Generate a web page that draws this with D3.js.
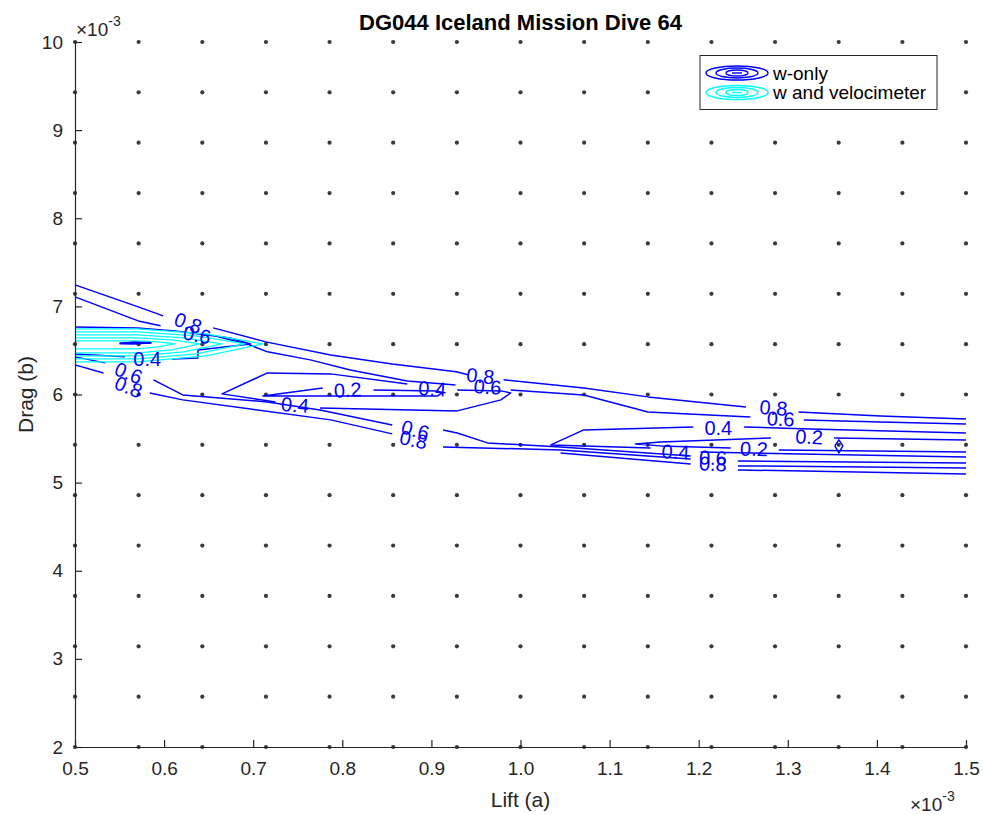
<!DOCTYPE html>
<html><head><meta charset="utf-8">
<script src="https://cdn.jsdelivr.net/npm/d3@7"></script>
<style>
body{margin:0;background:#fff}
svg{display:block}
text{font-family:"Liberation Sans",Arial,Helvetica,sans-serif}
</style>
</head><body><svg id="c" width="983" height="815"></svg>
<script>
// ---------------- data (units of 1e-3) ----------------
const title = "DG044 Iceland Mission Dive 64";
const xLabel = "Lift (a)";
const yLabel = "Drag (b)";
const xTicks = [0.5,0.6,0.7,0.8,0.9,1.0,1.1,1.2,1.3,1.4,1.5];
const yTicks = [2,3,4,5,6,7,8,9,10];
const gridA = [0.5,0.5714,0.6429,0.7143,0.7857,0.8571,0.9286,1.0,1.0714,1.1429,1.2143,1.2857,1.3571,1.4286,1.5];
const gridB = [2,2.5714,3.1429,3.7143,4.2857,4.8571,5.4286,6.0,6.5714,7.1429,7.7143,8.2857,8.8571,9.4286,10];
const legendNames = ["w-only","w and velocimeter"];

// w-only contour strokes, by level
const wOnly08 = [
 [[0.500,7.244],[0.571,6.994],[0.599,6.892]],
 [[0.655,6.756],[0.714,6.597],[0.787,6.449],[0.856,6.347],[0.928,6.257],[0.942,6.222]],
 [[0.981,6.166],[1.071,6.075],[1.143,5.973],[1.253,5.859]],
 [[1.312,5.802],[1.404,5.757],[1.500,5.723]],
 [[0.500,6.336],[0.532,6.245]],
 [[0.584,6.018],[0.621,5.939],[0.787,5.712],[0.856,5.553]],
 [[0.913,5.405],[1.045,5.371],[1.191,5.269]],
 [[1.244,5.190],[1.500,5.167]],
 [[1.045,5.337],[1.191,5.212]],
 [[1.244,5.144],[1.500,5.099]]
];
const wOnly06 = [
 [[0.500,7.108],[0.571,6.835],[0.596,6.779]],
 [[0.661,6.654],[0.693,6.574],[0.716,6.484],[0.764,6.393],[0.809,6.279],[0.873,6.154],[0.927,6.109]],
 [[0.989,6.052],[1.071,5.995],[1.143,5.802],[1.258,5.746]],
 [[1.318,5.712],[1.404,5.689],[1.500,5.666]],
 [[0.500,6.427],[0.534,6.359]],
 [[0.588,6.166],[0.621,5.995],[0.716,5.916],[0.775,5.825],[0.856,5.655]],
 [[0.913,5.598],[0.929,5.564],[0.963,5.451],[1.045,5.405],[1.191,5.303]],
 [[1.244,5.246],[1.500,5.224]]
];
const wOnly04 = [
 [[0.725,5.916],[0.665,6.007],[0.716,6.245],[0.787,6.234],[0.873,6.120]],
 [[0.929,6.052],[0.978,6.041],[0.989,6.018],[0.978,5.939],[0.929,5.814],[0.775,5.848]],
 [[1.194,5.632],[1.071,5.598],[1.034,5.428],[1.071,5.417],[1.146,5.394]],
 [[1.251,5.632],[1.315,5.610],[1.500,5.564]],
 [[1.202,5.348],[1.315,5.326],[1.500,5.292]],
 [[0.500,6.767],[0.570,6.756],[0.612,6.722],[0.674,6.642],[0.697,6.574],[0.638,6.506],[0.638,6.415],[0.609,6.404]],
 [[0.556,6.427],[0.500,6.460]]
];
const wOnly02 = [
 [[0.835,6.052],[0.907,6.041],[0.912,6.018],[0.907,5.984],[0.711,5.984],[0.778,6.075]],
 [[1.281,5.507],[1.157,5.462],[1.129,5.439],[1.157,5.417],[1.236,5.394]],
 [[1.352,5.507],[1.500,5.485]],
 [[1.290,5.371],[1.500,5.348]],
 [[0.550,6.580],[0.566,6.592],[0.585,6.586],[0.566,6.577],[0.550,6.580]],
 [[1.3528,5.417],[1.3573,5.485],[1.3618,5.417],[1.3573,5.337],[1.3528,5.417]]
];
// w and velocimeter contour loops
const velLoops = [
 [[0.5,6.745],[0.570,6.745],[0.647,6.688],[0.711,6.574],[0.647,6.438],[0.570,6.370],[0.5,6.370]],
 [[0.5,6.711],[0.570,6.711],[0.636,6.665],[0.691,6.574],[0.636,6.461],[0.570,6.404],[0.5,6.404]],
 [[0.5,6.676],[0.570,6.676],[0.622,6.642],[0.665,6.574],[0.622,6.484],[0.570,6.438],[0.5,6.438]],
 [[0.5,6.642],[0.570,6.642],[0.609,6.620],[0.640,6.574],[0.609,6.506],[0.570,6.472],[0.5,6.472]],
 [[0.5,6.608],[0.570,6.608],[0.593,6.597],[0.612,6.574],[0.593,6.540],[0.570,6.518],[0.5,6.518]]
];
// contour labels: text, a, b, angle
const contourLabels = [
 ["0.8",0.627,6.813,20],["0.6",0.637,6.676,12],["0.4",0.581,6.404,0],
 ["0.6",0.560,6.245,22],["0.8",0.560,6.086,22],
 ["0.2",0.806,6.052,-3],["0.4",0.901,6.064,3],["0.4",0.747,5.882,5],
 ["0.8",0.955,6.211,6],["0.6",0.963,6.086,4],
 ["0.6",0.882,5.598,15],["0.8",0.880,5.485,12],
 ["0.4",1.222,5.621,0],["0.4",1.174,5.348,3],
 ["0.2",1.324,5.519,3],["0.2",1.262,5.383,2],
 ["0.8",1.284,5.848,5],["0.6",1.292,5.723,3],
 ["0.6",1.216,5.280,3],["0.8",1.216,5.212,3]
];

// ---------------- drawing ----------------
const svg = d3.select("#c");
const L = 75, R = 966, T = 42, B = 747;
const x = d3.scaleLinear().domain([0.5,1.5]).range([L,R]);
const y = d3.scaleLinear().domain([2,10]).range([B,T]);
const axisCol = "#262626";
const blue = "#0000ff", cyan = "#00ffff";

svg.append("rect").attr("width",983).attr("height",815).attr("fill","#fff");

// grid sample dots
const dots = svg.append("g");
gridA.forEach(a => gridB.forEach(b => {
  dots.append("circle").attr("cx",x(a)).attr("cy",y(b)).attr("r",2.1).attr("fill","#3a3a3a");
}));

const line = d3.line().x(d=>x(d[0])).y(d=>y(d[1]));
const cg = svg.append("g").attr("fill","none").attr("stroke-linejoin","round");
[wOnly08,wOnly06,wOnly04,wOnly02].forEach(level => level.forEach(p => {
  cg.append("path").attr("d",line(p)).attr("stroke",blue).attr("stroke-width",1.5);
}));
velLoops.forEach(p => {
  cg.append("path").attr("d",line(p)).attr("stroke",cyan).attr("stroke-width",1.3);
});
cg.append("path").attr("d",line(wOnly02[4])).attr("stroke",blue).attr("stroke-width",1.8);

// contour labels
svg.append("g").selectAll("text").data(contourLabels).join("text")
  .attr("transform",d=>`translate(${x(d[1])},${y(d[2])}) rotate(${d[3]})`)
  .attr("text-anchor","middle").attr("dominant-baseline","central")
  .attr("font-size",20).attr("fill",blue).text(d=>d[0]);

// axes
const xAxis = d3.axisBottom(x).tickValues(xTicks).tickSize(-7).tickSizeOuter(0).tickPadding(15)
  .tickFormat(d3.format(".1f"));
const yAxis = d3.axisLeft(y).tickValues(yTicks).tickSize(-7).tickSizeOuter(0).tickPadding(12)
  .tickFormat(d3.format("d"));
const gx = svg.append("g").attr("transform",`translate(0,${B})`).call(xAxis);
const gy = svg.append("g").attr("transform",`translate(${L},0)`).call(yAxis);
[gx,gy].forEach(g => {
  g.select(".domain").attr("stroke",axisCol).attr("stroke-width",1.2);
  g.selectAll(".tick line").attr("stroke",axisCol).attr("stroke-width",1.2);
  g.selectAll(".tick text").attr("fill",axisCol).attr("font-size",19)
    .attr("font-family","Liberation Sans, Arial, sans-serif");
});

// exponent labels
function expo(xx, yy) {
  const t = svg.append("text").attr("x",xx).attr("y",yy).attr("fill",axisCol).attr("font-size",19);
  t.append("tspan").text("×10");
  t.append("tspan").attr("dy",-10).attr("font-size",14).text("-3");
}
expo(76, 36);
expo(910, 811);

// axis titles
svg.append("text").attr("x",(L+R)/2).attr("y",807).attr("text-anchor","middle")
  .attr("font-size",21).attr("fill",axisCol).text(xLabel);
svg.append("text").attr("transform",`translate(33,${(T+B)/2}) rotate(-90)`).attr("text-anchor","middle")
  .attr("font-size",21).attr("fill",axisCol).text(yLabel);

// title
svg.append("text").attr("x",(L+R)/2).attr("y",30).attr("text-anchor","middle")
  .attr("font-size",22).attr("font-weight","bold").attr("fill","#000").text(title);

// legend
const lg = svg.append("g");
lg.append("rect").attr("x",700).attr("y",55.5).attr("width",237).attr("height",54)
  .attr("fill","#fff").attr("stroke",axisCol).attr("stroke-width",1);
legendNames.forEach((name,i) => {
  const cy = 73 + i*19.5, cx = 737, col = i===0 ? blue : cyan;
  [[31,7],[21,5],[11,3]].forEach(r => {
    lg.append("ellipse").attr("cx",cx).attr("cy",cy).attr("rx",r[0]).attr("ry",r[1])
      .attr("fill","none").attr("stroke",col).attr("stroke-width",1.4);
  });
  lg.append("line").attr("x1",cx-5).attr("x2",cx+5).attr("y1",cy).attr("y2",cy).attr("stroke",col).attr("stroke-width",1.4);
  lg.append("text").attr("x",773).attr("y",cy).attr("dominant-baseline","central")
    .attr("font-size",19).attr("fill","#000").text(name);
});
</script></body></html>
